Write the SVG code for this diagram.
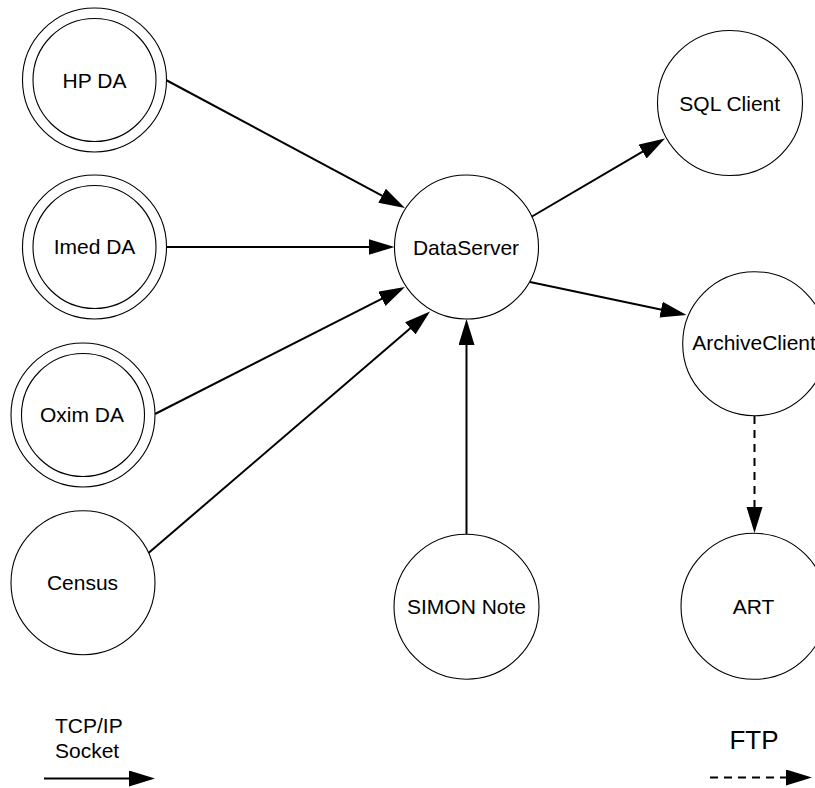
<svg xmlns="http://www.w3.org/2000/svg" width="815" height="788" viewBox="0 0 815 788">
  <style>
    .node { fill: #ffffff; stroke: #000000; stroke-width: 1.1; }
    .label { font-family: "Liberation Sans", Arial, sans-serif; font-size: 21px; fill: #000000; text-anchor: middle; }
    .legend { font-family: "Liberation Sans", Arial, sans-serif; font-size: 21px; fill: #000000; }
    .legend-big { font-family: "Liberation Sans", Arial, sans-serif; font-size: 26px; fill: #000000; text-anchor: middle; }
    .tcp { stroke: #000000; stroke-width: 2; fill: none; marker-end: url(#arrow); }
    .ftp { stroke: #000000; stroke-width: 2; fill: none; stroke-dasharray: 8 6; marker-end: url(#arrow); }
  </style>
  <defs>
    <marker id="arrow" markerUnits="userSpaceOnUse" markerWidth="28" markerHeight="18" refX="2" refY="8" orient="auto">
      <path d="M0,0 L26,8 L0,16 Z" fill="#000000"/>
    </marker>
  </defs>
  <rect width="815" height="788" fill="#ffffff"/>

  <g id="connectors">
    <line class="tcp" x1="166" y1="80" x2="383.8" y2="196.7"/>
    <line class="tcp" x1="166.5" y1="247" x2="370.5" y2="247"/>
    <line class="tcp" x1="155" y1="414" x2="383.6" y2="297.9"/>
    <line class="tcp" x1="148.5" y1="553" x2="411.8" y2="327.1"/>
    <line class="tcp" x1="466.5" y1="534" x2="466.5" y2="343"/>
    <line class="tcp" x1="532" y1="216.5" x2="644.3" y2="150.6"/>
    <line class="tcp" x1="530" y1="282" x2="663" y2="310"/>
    <line class="ftp" x1="754.5" y1="416" x2="754.5" y2="509"/>
  </g>

  <g id="hp-da">
    <circle class="node" cx="94.5" cy="80" r="72"/>
    <circle class="node" cx="94.5" cy="80" r="61.5"/>
    <text class="label" x="94.5" y="87.5">HP DA</text>
  </g>
  <g id="imed-da">
    <circle class="node" cx="94.5" cy="247" r="72"/>
    <circle class="node" cx="94.5" cy="247" r="61.5"/>
    <text class="label" x="94.5" y="254">Imed DA</text>
  </g>
  <g id="oxim-da">
    <circle class="node" cx="83" cy="415" r="72"/>
    <circle class="node" cx="83" cy="415" r="61.5"/>
    <text class="label" x="82" y="421.5">Oxim DA</text>
  </g>
  <g id="census">
    <circle class="node" cx="83" cy="582.7" r="72"/>
    <text class="label" x="82.5" y="590">Census</text>
  </g>
  <g id="dataserver">
    <circle class="node" cx="466.5" cy="247" r="72"/>
    <text class="label" x="466" y="254.5">DataServer</text>
  </g>
  <g id="simon-note">
    <circle class="node" cx="466.5" cy="606.7" r="72.5"/>
    <text class="label" x="466.5" y="613.5">SIMON Note</text>
  </g>
  <g id="sql-client">
    <circle class="node" cx="730" cy="103" r="72.5"/>
    <text class="label" x="729.7" y="110.5">SQL Client</text>
  </g>
  <g id="archive-client">
    <circle class="node" cx="754.7" cy="343.7" r="72"/>
    <text class="label" x="754" y="349.5">ArchiveClient</text>
  </g>
  <g id="art">
    <circle class="node" cx="754" cy="606.3" r="73"/>
    <text class="label" x="753.5" y="613.5">ART</text>
  </g>

  <g id="legend">
    <text class="legend" x="55" y="733">TCP/IP</text>
    <text class="legend" x="55" y="758">Socket</text>
    <line class="tcp" x1="44" y1="778.5" x2="131" y2="778.5"/>
    <text class="legend-big" x="754" y="748.5">FTP</text>
    <line class="ftp" x1="710" y1="777.5" x2="788" y2="777.5"/>
  </g>
</svg>
